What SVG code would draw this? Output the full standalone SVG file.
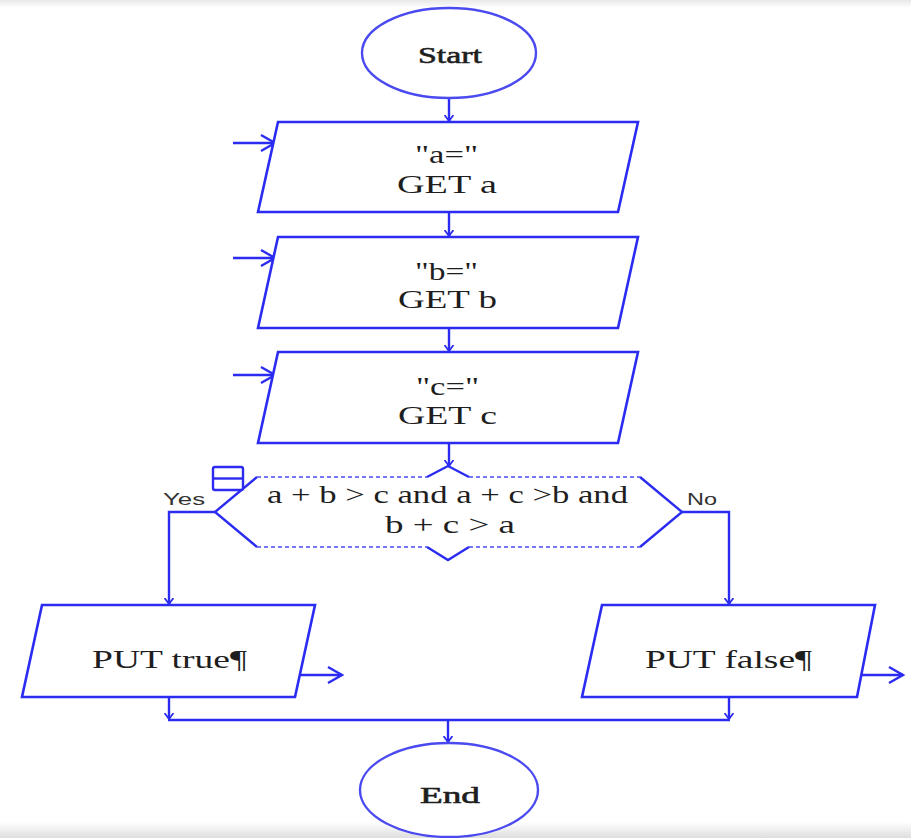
<svg xmlns="http://www.w3.org/2000/svg" width="911" height="838" viewBox="0 0 911 838">
  <style>
    .shape { fill: #ffffff; stroke: #2b2bf2; stroke-width: 2.6; stroke-linejoin: miter; }
    .term { fill: #ffffff; stroke: #4a4af0; stroke-width: 2.4; }
    .edge { fill: none; stroke: #2b2bf2; stroke-width: 2.4; }
    .dash { fill: none; stroke: #4a4af0; stroke-width: 1.6; stroke-dasharray: 4 3; }
    .lbl { font-family: "Liberation Serif", "Times New Roman", serif; font-size: 25px; fill: #1e1e1e; }
    .term-lbl { font-family: "Liberation Serif", "Times New Roman", serif; font-size: 24px; fill: #1e1e1e; stroke: #1e1e1e; stroke-width: 0.6; }
    .branch { font-family: "Liberation Sans", Arial, sans-serif; font-size: 17px; fill: #333333; }
  </style>
  <defs>
    <marker id="tick" markerWidth="14" markerHeight="10" refX="6" refY="5" orient="auto" markerUnits="userSpaceOnUse">
      <path d="M0,0.5 L6,5 L0,9.5" fill="none" stroke="#2b2bf2" stroke-width="1.8"/>
    </marker>
    <marker id="open" markerWidth="20" markerHeight="20" refX="15" refY="10" orient="auto" markerUnits="userSpaceOnUse">
      <path d="M1,2 L15,10 L1,18" fill="none" stroke="#2b2bf2" stroke-width="2.4"/>
    </marker>
    <linearGradient id="topShade" x1="0" y1="0" x2="0" y2="1">
      <stop offset="0" stop-color="#e8e8e8"/>
      <stop offset="1" stop-color="#ffffff"/>
    </linearGradient>
    <linearGradient id="bottomShade" x1="0" y1="0" x2="0" y2="1">
      <stop offset="0" stop-color="#ffffff"/>
      <stop offset="1" stop-color="#dedede"/>
    </linearGradient>
  </defs>

  <rect x="0" y="0" width="911" height="838" fill="#ffffff"/>
  <rect x="0" y="0" width="911" height="8" fill="url(#topShade)"/>
  <rect x="0" y="822" width="911" height="16" fill="url(#bottomShade)"/>

  <!-- connectors -->
  <g id="connectors">
    <line class="edge" x1="449" y1="98" x2="449" y2="121" marker-end="url(#tick)"/>
    <line class="edge" x1="449" y1="212" x2="449" y2="236" marker-end="url(#tick)"/>
    <line class="edge" x1="449" y1="328" x2="449" y2="351" marker-end="url(#tick)"/>
    <line class="edge" x1="449" y1="443" x2="449" y2="466" marker-end="url(#tick)"/>
    <!-- incoming input arrows -->
    <line class="edge" x1="233" y1="143" x2="275" y2="143" marker-end="url(#open)"/>
    <line class="edge" x1="233" y1="258" x2="275" y2="258" marker-end="url(#open)"/>
    <line class="edge" x1="233" y1="375" x2="275" y2="375" marker-end="url(#open)"/>
    <!-- branches -->
    <polyline class="edge" points="215,512 169,512 169,604" marker-end="url(#tick)"/>
    <polyline class="edge" points="682,512 729,512 729,604" marker-end="url(#tick)"/>
    <!-- outputs -->
    <line class="edge" x1="295" y1="675" x2="342" y2="675" marker-end="url(#open)"/>
    <line class="edge" x1="858" y1="675" x2="903" y2="675" marker-end="url(#open)"/>
    <!-- merge -->
    <line class="edge" x1="169" y1="697" x2="169" y2="719" marker-end="url(#tick)"/>
    <line class="edge" x1="729" y1="697" x2="729" y2="719" marker-end="url(#tick)"/>
    <line class="edge" x1="168" y1="720" x2="730" y2="720"/>
    <line class="edge" x1="448" y1="720" x2="448" y2="742" marker-end="url(#tick)"/>
  </g>

  <g id="start">
    <ellipse class="term" cx="449" cy="53" rx="87" ry="45"/>
    <text class="term-lbl" x="418" y="63" textLength="64" lengthAdjust="spacingAndGlyphs">Start</text>
  </g>

  <g id="input-a">
    <polygon class="shape" points="278,122 638,122 618,212 258,212"/>
    <text class="lbl" x="415" y="163" textLength="63" lengthAdjust="spacingAndGlyphs">"a="</text>
    <text class="lbl" x="397" y="193" textLength="100" lengthAdjust="spacingAndGlyphs">GET a</text>
  </g>

  <g id="input-b">
    <polygon class="shape" points="278,237 638,237 618,328 258,328"/>
    <text class="lbl" x="415" y="280" textLength="63" lengthAdjust="spacingAndGlyphs">"b="</text>
    <text class="lbl" x="398" y="308" textLength="99" lengthAdjust="spacingAndGlyphs">GET b</text>
  </g>

  <g id="input-c">
    <polygon class="shape" points="278,352 638,352 618,443 258,443"/>
    <text class="lbl" x="416" y="395" textLength="63" lengthAdjust="spacingAndGlyphs">"c="</text>
    <text class="lbl" x="398" y="424" textLength="99" lengthAdjust="spacingAndGlyphs">GET c</text>
  </g>

  <g id="decision">
    <polygon points="215,512 257,477 640,477 682,512 640,547 257,547" fill="#ffffff"/>
    <polyline class="edge" points="257,477 215,512 257,547"/>
    <polyline class="edge" points="640,477 682,512 640,547"/>
    <line class="dash" x1="257" y1="477" x2="427" y2="477"/>
    <line class="dash" x1="469" y1="477" x2="640" y2="477"/>
    <line class="dash" x1="257" y1="547" x2="427" y2="547"/>
    <line class="dash" x1="469" y1="547" x2="640" y2="547"/>
    <polyline class="edge" points="427,477 448,466 469,477"/>
    <polyline class="edge" points="427,547 448,560 469,547"/>
    <rect x="213" y="467" width="30" height="23" rx="2" fill="#ffffff" stroke="#2b2bf2" stroke-width="2.4"/>
    <line x1="213" y1="478.5" x2="243" y2="478.5" stroke="#2b2bf2" stroke-width="2.4"/>
    <text class="lbl" x="267" y="503" textLength="361" lengthAdjust="spacingAndGlyphs">a + b &gt; c and a + c &gt;b and</text>
    <text class="lbl" x="385" y="533" textLength="130" lengthAdjust="spacingAndGlyphs">b + c &gt; a</text>
    <text class="branch" x="163" y="505" textLength="42" lengthAdjust="spacingAndGlyphs">Yes</text>
    <text class="branch" x="687" y="505" textLength="30" lengthAdjust="spacingAndGlyphs">No</text>
  </g>

  <g id="put-true">
    <polygon class="shape" points="42,605 315,605 295,697 22,697"/>
    <text class="lbl" x="92" y="668" textLength="155" lengthAdjust="spacingAndGlyphs">PUT true¶</text>
  </g>

  <g id="put-false">
    <polygon class="shape" points="602,605 875,605 857,697 582,697"/>
    <text class="lbl" x="645" y="668" textLength="167" lengthAdjust="spacingAndGlyphs">PUT false¶</text>
  </g>

  <g id="end">
    <ellipse class="term" cx="449" cy="790" rx="89" ry="47"/>
    <text class="term-lbl" x="420" y="803" textLength="60" lengthAdjust="spacingAndGlyphs">End</text>
  </g>
</svg>
